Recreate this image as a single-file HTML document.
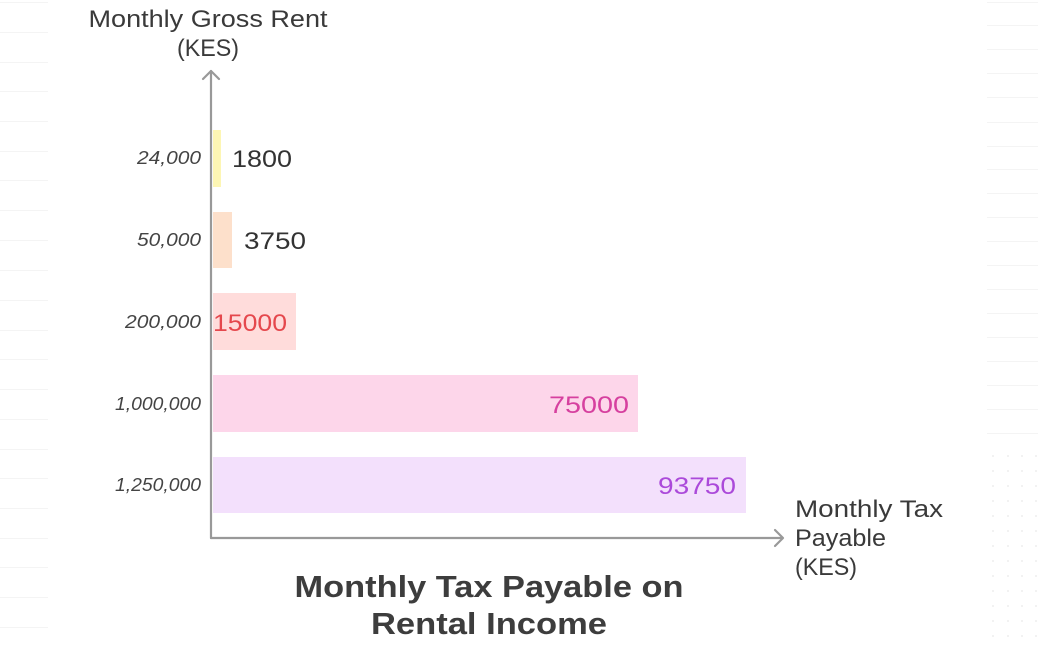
<!DOCTYPE html>
<html>
<head>
<meta charset="utf-8">
<style>
html,body{margin:0;padding:0;background:#ffffff;}
svg{display:block;}
text{font-family:"Liberation Sans","DejaVu Sans",sans-serif;}
</style>
</head>
<body>
<svg width="1038" height="649" viewBox="0 0 1038 649" xmlns="http://www.w3.org/2000/svg">
  <rect width="1038" height="649" fill="#ffffff"/>
  <!-- faint background lines left -->
  <g stroke="#f4f4f4" stroke-width="1">
    <line x1="0" y1="2.5" x2="48" y2="2.5"/>
    <line x1="0" y1="32.5" x2="48" y2="32.5"/>
    <line x1="0" y1="62.5" x2="48" y2="62.5"/>
    <line x1="0" y1="91.5" x2="48" y2="91.5"/>
    <line x1="0" y1="121.5" x2="48" y2="121.5"/>
    <line x1="0" y1="151.5" x2="48" y2="151.5"/>
    <line x1="0" y1="180.5" x2="48" y2="180.5"/>
    <line x1="0" y1="210.5" x2="48" y2="210.5"/>
    <line x1="0" y1="240.5" x2="48" y2="240.5"/>
    <line x1="0" y1="270.5" x2="48" y2="270.5"/>
    <line x1="0" y1="300.5" x2="48" y2="300.5"/>
    <line x1="0" y1="330.5" x2="48" y2="330.5"/>
    <line x1="0" y1="359.5" x2="48" y2="359.5"/>
    <line x1="0" y1="389.5" x2="48" y2="389.5"/>
    <line x1="0" y1="419.5" x2="48" y2="419.5"/>
    <line x1="0" y1="449.5" x2="48" y2="449.5"/>
    <line x1="0" y1="478.5" x2="48" y2="478.5"/>
    <line x1="0" y1="508.5" x2="48" y2="508.5"/>
    <line x1="0" y1="538.5" x2="48" y2="538.5"/>
    <line x1="0" y1="567.5" x2="48" y2="567.5"/>
    <line x1="0" y1="597.5" x2="48" y2="597.5"/>
    <line x1="0" y1="627.5" x2="48" y2="627.5"/>
  </g>
  <!-- faint background lines right -->
  <g stroke="#f4f4f4" stroke-width="1">
    <line x1="987" y1="2.5" x2="1038" y2="2.5"/>
    <line x1="987" y1="25.5" x2="1038" y2="25.5"/>
    <line x1="987" y1="49.5" x2="1038" y2="49.5"/>
    <line x1="987" y1="73.5" x2="1038" y2="73.5"/>
    <line x1="987" y1="97.5" x2="1038" y2="97.5"/>
    <line x1="987" y1="122.5" x2="1038" y2="122.5"/>
    <line x1="987" y1="146.5" x2="1038" y2="146.5"/>
    <line x1="987" y1="169.5" x2="1038" y2="169.5"/>
    <line x1="987" y1="193.5" x2="1038" y2="193.5"/>
    <line x1="987" y1="217.5" x2="1038" y2="217.5"/>
    <line x1="987" y1="241.5" x2="1038" y2="241.5"/>
    <line x1="987" y1="265.5" x2="1038" y2="265.5"/>
    <line x1="987" y1="289.5" x2="1038" y2="289.5"/>
    <line x1="987" y1="313.5" x2="1038" y2="313.5"/>
    <line x1="987" y1="337.5" x2="1038" y2="337.5"/>
    <line x1="987" y1="361.5" x2="1038" y2="361.5"/>
    <line x1="987" y1="385.5" x2="1038" y2="385.5"/>
    <line x1="987" y1="409.5" x2="1038" y2="409.5"/>
    <line x1="987" y1="433.5" x2="1038" y2="433.5"/>
  </g>
  <!-- faint dots bottom right -->
  <g fill="#e8e8e8">
    <circle cx="993" cy="456" r="0.9"/><circle cx="1008" cy="456" r="0.9"/><circle cx="1022" cy="456" r="0.9"/><circle cx="1036" cy="456" r="0.9"/>
    <circle cx="993" cy="471" r="0.9"/><circle cx="1008" cy="471" r="0.9"/><circle cx="1022" cy="471" r="0.9"/><circle cx="1036" cy="471" r="0.9"/>
    <circle cx="993" cy="486" r="0.9"/><circle cx="1008" cy="486" r="0.9"/><circle cx="1022" cy="486" r="0.9"/><circle cx="1036" cy="486" r="0.9"/>
    <circle cx="993" cy="501" r="0.9"/><circle cx="1008" cy="501" r="0.9"/><circle cx="1022" cy="501" r="0.9"/><circle cx="1036" cy="501" r="0.9"/>
    <circle cx="993" cy="516" r="0.9"/><circle cx="1008" cy="516" r="0.9"/><circle cx="1022" cy="516" r="0.9"/><circle cx="1036" cy="516" r="0.9"/>
    <circle cx="993" cy="531" r="0.9"/><circle cx="1008" cy="531" r="0.9"/><circle cx="1022" cy="531" r="0.9"/><circle cx="1036" cy="531" r="0.9"/>
    <circle cx="993" cy="546" r="0.9"/><circle cx="1008" cy="546" r="0.9"/><circle cx="1022" cy="546" r="0.9"/><circle cx="1036" cy="546" r="0.9"/>
    <circle cx="993" cy="561" r="0.9"/><circle cx="1008" cy="561" r="0.9"/><circle cx="1022" cy="561" r="0.9"/><circle cx="1036" cy="561" r="0.9"/>
    <circle cx="993" cy="576" r="0.9"/><circle cx="1008" cy="576" r="0.9"/><circle cx="1022" cy="576" r="0.9"/><circle cx="1036" cy="576" r="0.9"/>
    <circle cx="993" cy="591" r="0.9"/><circle cx="1008" cy="591" r="0.9"/><circle cx="1022" cy="591" r="0.9"/><circle cx="1036" cy="591" r="0.9"/>
    <circle cx="993" cy="606" r="0.9"/><circle cx="1008" cy="606" r="0.9"/><circle cx="1022" cy="606" r="0.9"/><circle cx="1036" cy="606" r="0.9"/>
    <circle cx="993" cy="621" r="0.9"/><circle cx="1008" cy="621" r="0.9"/><circle cx="1022" cy="621" r="0.9"/><circle cx="1036" cy="621" r="0.9"/>
    <circle cx="993" cy="636" r="0.9"/><circle cx="1008" cy="636" r="0.9"/><circle cx="1022" cy="636" r="0.9"/><circle cx="1036" cy="636" r="0.9"/>
  </g>

  <!-- bars -->
  <rect x="213" y="130" width="8" height="57" fill="#fdf6b4"/>
  <rect x="213" y="212" width="19" height="56" fill="#fde0cb"/>
  <rect x="213" y="293" width="83" height="57" fill="#ffdcdb"/>
  <rect x="213" y="375" width="425" height="57" fill="#fdd6ea"/>
  <rect x="213" y="457" width="533" height="56" fill="#f3e0fc"/>

  <!-- axes -->
  <g stroke="#999999" stroke-width="2.2" fill="none" stroke-linecap="round" stroke-linejoin="round">
    <line x1="211" y1="71" x2="211" y2="538"/>
    <polyline points="203,79 211,71 219,79"/>
    <line x1="211" y1="538" x2="782" y2="538"/>
    <polyline points="775,530 783,538 775,546"/>
  </g>

  <!-- y tick labels -->
  <g font-size="18" font-style="italic" fill="#444444" text-anchor="end">
    <text x="201" y="164" textLength="64" lengthAdjust="spacingAndGlyphs">24,000</text>
    <text x="201" y="246" textLength="64" lengthAdjust="spacingAndGlyphs">50,000</text>
    <text x="201" y="328" textLength="76" lengthAdjust="spacingAndGlyphs">200,000</text>
    <text x="201" y="410" textLength="86" lengthAdjust="spacingAndGlyphs">1,000,000</text>
    <text x="201" y="491" textLength="86" lengthAdjust="spacingAndGlyphs">1,250,000</text>
  </g>

  <!-- bar value labels -->
  <g font-size="24">
    <text x="232" y="167" fill="#333333" textLength="60" lengthAdjust="spacingAndGlyphs">1800</text>
    <text x="244" y="249" fill="#333333" textLength="62" lengthAdjust="spacingAndGlyphs">3750</text>
    <text x="213" y="331" fill="#e5484d" textLength="74" lengthAdjust="spacingAndGlyphs">15000</text>
    <text x="549" y="413" fill="#d6409f" textLength="80" lengthAdjust="spacingAndGlyphs">75000</text>
    <text x="658" y="494" fill="#ab4ada" textLength="78" lengthAdjust="spacingAndGlyphs">93750</text>
  </g>

  <!-- y axis title -->
  <g font-size="24" fill="#3a3a3a" text-anchor="middle">
    <text x="208" y="27" textLength="239" lengthAdjust="spacingAndGlyphs">Monthly Gross Rent</text>
    <text x="208" y="56" textLength="62" lengthAdjust="spacingAndGlyphs">(KES)</text>
  </g>

  <!-- x axis title -->
  <g font-size="24" fill="#3a3a3a">
    <text x="795" y="517" textLength="148" lengthAdjust="spacingAndGlyphs">Monthly Tax</text>
    <text x="795" y="546" textLength="91" lengthAdjust="spacingAndGlyphs">Payable</text>
    <text x="795" y="575" textLength="62" lengthAdjust="spacingAndGlyphs">(KES)</text>
  </g>

  <!-- chart title -->
  <g font-size="31" font-weight="bold" fill="#3d3d3d" text-anchor="middle">
    <text x="489" y="597" textLength="389" lengthAdjust="spacingAndGlyphs">Monthly Tax Payable on</text>
    <text x="489" y="634" textLength="236" lengthAdjust="spacingAndGlyphs">Rental Income</text>
  </g>
</svg>
</body>
</html>
